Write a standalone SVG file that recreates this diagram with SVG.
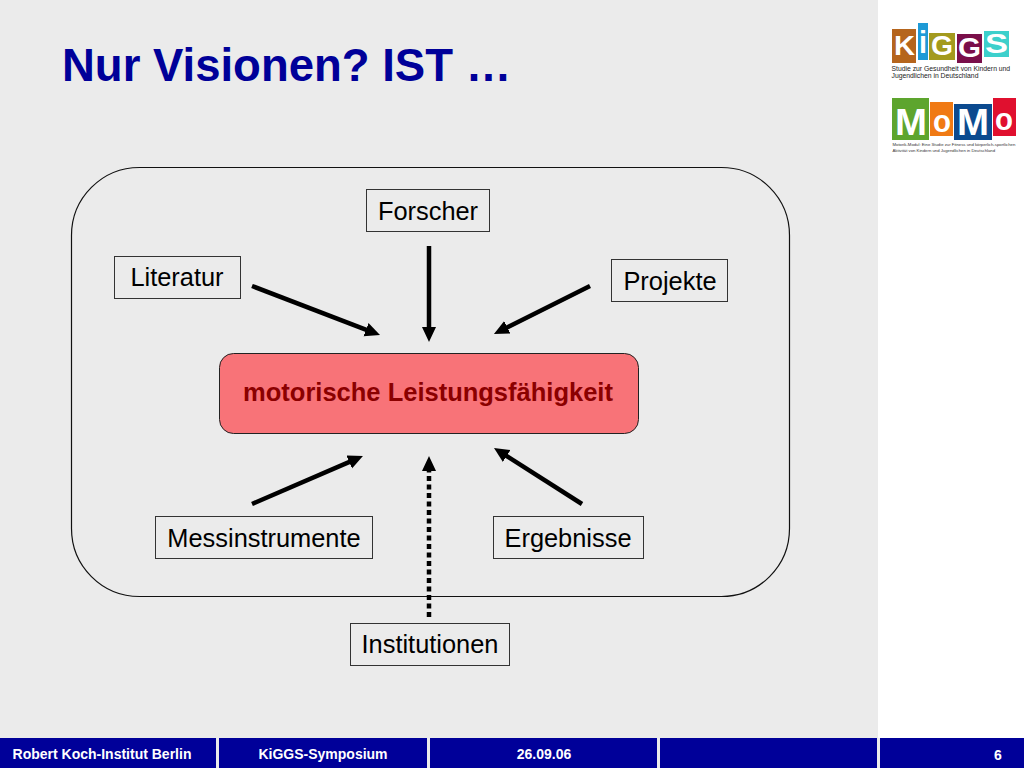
<svg xmlns="http://www.w3.org/2000/svg" width="1024" height="768" viewBox="0 0 1024 768">
<style>
text{font-family:"Liberation Sans",Arial,sans-serif}
.box{fill:#ebebeb;stroke:#333;stroke-width:1}
.lbl{font-size:25.400px;fill:#000;text-anchor:middle}
.conn{stroke:#000;stroke-width:4.500;fill:none}
.foot{font-size:14px;font-weight:bold;fill:#fff;text-anchor:middle}
.logo{font-weight:bold;fill:#fff}
.cap{font-size:6.800px;fill:#222}
.cap2{font-size:4.250px;fill:#333}
</style>
<defs>
<marker id="arrow" markerUnits="userSpaceOnUse" markerWidth="16" markerHeight="15" refX="6" refY="7" orient="auto"><path d="M0 0L15 7L0 14Z" fill="#000"/></marker>
</defs>
<rect width="1024" height="768" fill="#fff"/>
<rect width="878" height="738" fill="#ebebeb"/>
<text x="62" y="81" font-size="45.500" font-weight="bold" fill="#000099">Nur Visionen? IST …</text>
<rect id="frame" x="71.500" y="167.500" width="718" height="429" rx="68" fill="none" stroke="#111" stroke-width="1.200"/>
<g id="connectors">
<line class="conn" x1="429" y1="246" x2="429" y2="333" marker-end="url(#arrow)"/>
<line class="conn" x1="252" y1="286" x2="371.600" y2="331.800" marker-end="url(#arrow)"/>
<line class="conn" x1="590" y1="286" x2="502" y2="330" marker-end="url(#arrow)"/>
<line class="conn" x1="252" y1="504" x2="354.700" y2="459.600" marker-end="url(#arrow)"/>
<line class="conn" x1="582" y1="504" x2="501.600" y2="452.800" marker-end="url(#arrow)"/>
<line class="conn" x1="429" y1="617" x2="429" y2="465" stroke-dasharray="5 3.500" marker-end="url(#arrow)"/>
</g>
<g id="center"><rect x="219.500" y="353.500" width="419" height="80" rx="14" fill="#f87378" stroke="#222" stroke-width="1"/><text x="428" y="401" font-size="25.500" font-weight="bold" fill="#8b0000" text-anchor="middle">motorische Leistungsfähigkeit</text></g>
<g id="forscher"><rect class="box" x="366.500" y="189.500" width="123" height="42"/><text class="lbl" x="428" y="220">Forscher</text></g>
<g id="literatur"><rect class="box" x="114.500" y="256.500" width="126" height="42"/><text class="lbl" x="177" y="286">Literatur</text></g>
<g id="projekte"><rect class="box" x="611.500" y="259.500" width="116" height="42"/><text class="lbl" x="670" y="290">Projekte</text></g>
<g id="messinstrumente"><rect class="box" x="155.500" y="516.500" width="217" height="42"/><text class="lbl" x="264" y="547">Messinstrumente</text></g>
<g id="ergebnisse"><rect class="box" x="493.500" y="516.500" width="150" height="42"/><text class="lbl" x="568" y="547">Ergebnisse</text></g>
<g id="institutionen"><rect class="box" x="350.500" y="623.500" width="159" height="42"/><text class="lbl" x="430" y="653">Institutionen</text></g>
<g id="logo-kiggs">
<rect x="892" y="29" width="24" height="34" fill="#b5651d"/>
<rect x="918" y="23" width="10" height="37" fill="#1e9ad6"/>
<rect x="929" y="33" width="26" height="27" fill="#a39a1e"/>
<rect x="957" y="34" width="25" height="29" fill="#7a0f4a"/>
<rect x="984" y="31" width="25" height="26" fill="#3dd0cc"/>
<text class="logo" x="894" y="55" font-size="27" textLength="21" lengthAdjust="spacingAndGlyphs">K</text>
<text class="logo" x="919" y="53" font-size="32" textLength="8" lengthAdjust="spacingAndGlyphs">i</text>
<text class="logo" x="931" y="55" font-size="27" textLength="22" lengthAdjust="spacingAndGlyphs">G</text>
<text class="logo" x="958" y="57" font-size="27" textLength="23" lengthAdjust="spacingAndGlyphs">G</text>
<text class="logo" x="985" y="53" font-size="27" textLength="23" lengthAdjust="spacingAndGlyphs">S</text>
<text class="cap" x="891.500" y="71">Studie zur Gesundheit von Kindern und</text>
<text class="cap" x="891.500" y="78">Jugendlichen in Deutschland</text>
</g>
<g id="logo-momo">
<rect x="892" y="98" width="37" height="42" fill="#5da52e"/>
<rect x="930" y="102" width="23" height="34" fill="#f07a14"/>
<rect x="954" y="104" width="38" height="36" fill="#0b4a8f"/>
<rect x="993" y="98" width="23" height="38" fill="#e0102f"/>
<text class="logo" x="895" y="135" font-size="37" textLength="32" lengthAdjust="spacingAndGlyphs">M</text>
<text class="logo" x="933" y="132" font-size="31" textLength="18" lengthAdjust="spacingAndGlyphs">o</text>
<text class="logo" x="957" y="135" font-size="37" textLength="32" lengthAdjust="spacingAndGlyphs">M</text>
<text class="logo" x="995" y="130" font-size="31" textLength="18" lengthAdjust="spacingAndGlyphs">o</text>
<text class="cap2" x="892.500" y="146">Motorik-Modul: Eine Studie zur Fitness und körperlich-sportlichen</text>
<text class="cap2" x="892.500" y="152">Aktivität von Kindern und Jugendlichen in Deutschland</text>
</g>
<g id="footer">
<rect y="738" width="1024" height="30" fill="#000099"/>
<g fill="#ebebeb"><rect x="216" y="738" width="3" height="30"/><rect x="427" y="738" width="3" height="30"/><rect x="657" y="738" width="3" height="30"/><rect x="877" y="738" width="3" height="30"/></g>
<text class="foot" x="102" y="759">Robert Koch-Institut Berlin</text>
<text class="foot" x="323" y="759">KiGGS-Symposium</text>
<text class="foot" x="544" y="759">26.09.06</text>
<text class="foot" x="998" y="760" font-size="16">6</text>
</g>
</svg>
